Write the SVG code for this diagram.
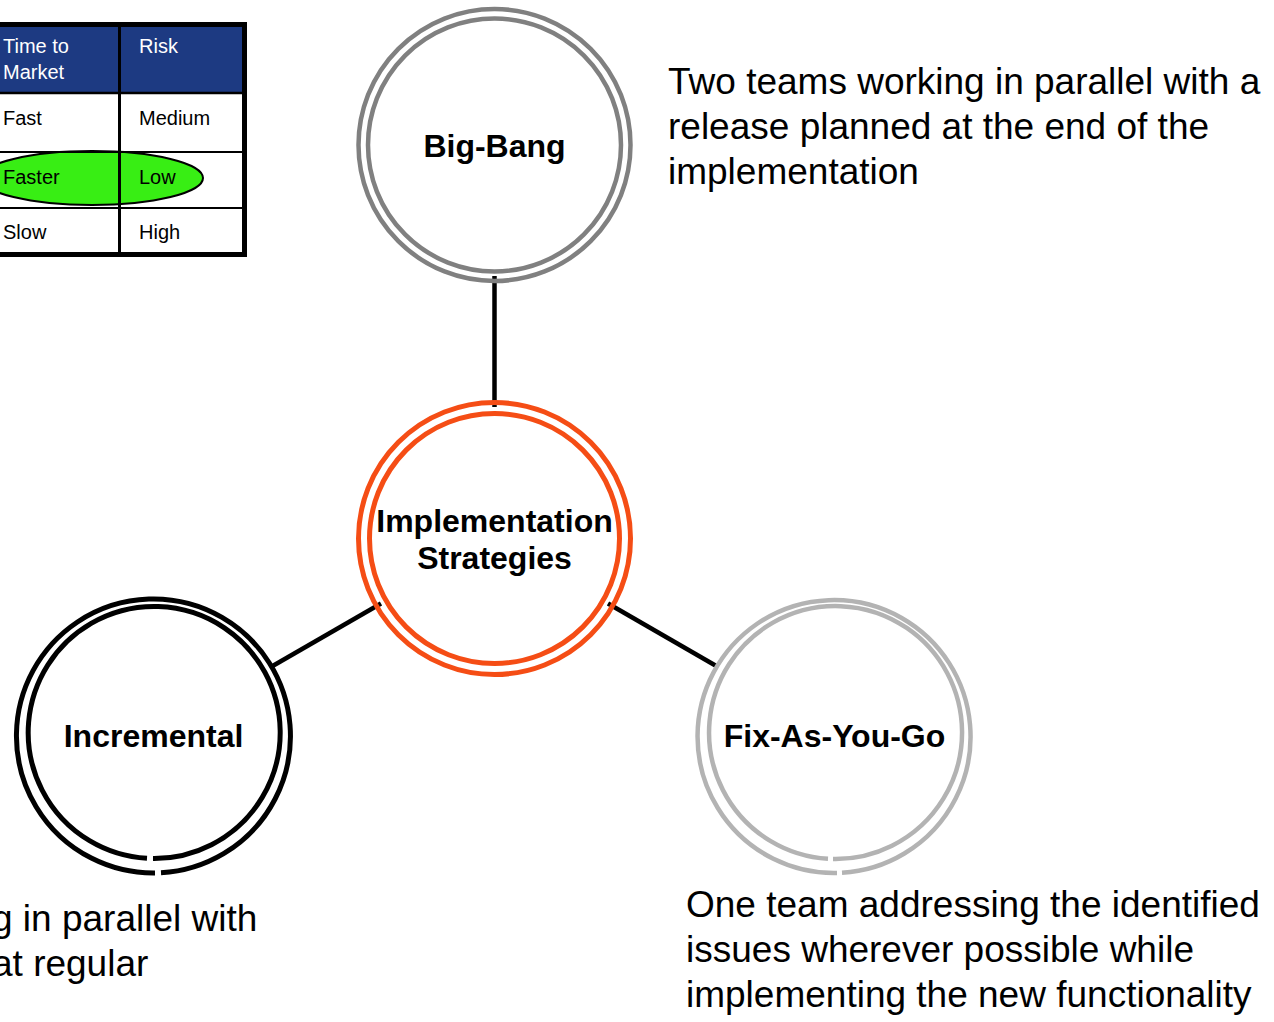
<svg xmlns="http://www.w3.org/2000/svg" width="1274" height="1022" viewBox="0 0 1274 1022">
<style>
text{font-family:"Liberation Sans",Arial,sans-serif;}
.lbl{font-size:32px;font-weight:bold;fill:#000;text-anchor:middle;}
.desc{font-size:37px;fill:#000;}
.cell{font-size:20px;fill:#000;}
.hdr{font-size:20px;fill:#fff;}
.ring{fill:none;}
.conn{stroke:#000;stroke-width:4.5;fill:none;}
</style>
<rect x="0" y="0" width="1274" height="1022" fill="#fff"/>
<g id="table">
<rect x="-20" y="24.5" width="264.5" height="230" fill="#fff"/>
<rect x="-20" y="24.5" width="264.5" height="68.5" fill="#1D3A82"/>
<ellipse cx="92" cy="178" rx="111" ry="27" fill="#38EE14" stroke="#000" stroke-width="2"/>
<line x1="-20" y1="93" x2="244" y2="93" stroke="#000" stroke-width="2.5"/>
<line x1="-20" y1="152" x2="244" y2="152" stroke="#000" stroke-width="2"/>
<line x1="-20" y1="208" x2="244" y2="208" stroke="#000" stroke-width="2"/>
<line x1="119.5" y1="24" x2="119.5" y2="255" stroke="#000" stroke-width="3"/>
<rect x="-20" y="24.5" width="264.5" height="230" fill="none" stroke="#000" stroke-width="5"/>
<text class="hdr" x="3" y="53">Time to</text>
<text class="hdr" x="3" y="79">Market</text>
<text class="hdr" x="139" y="53">Risk</text>
<text class="cell" x="3" y="125">Fast</text>
<text class="cell" x="139" y="125">Medium</text>
<text class="cell" x="3" y="184">Faster</text>
<text class="cell" x="139" y="184">Low</text>
<text class="cell" x="3" y="239">Slow</text>
<text class="cell" x="139" y="239">High</text>
</g>
<g id="connectors">
<line class="conn" x1="494.5" y1="276" x2="494.5" y2="407"/>
<line class="conn" x1="381" y1="603.5" x2="270" y2="667.5"/>
<line class="conn" x1="608" y1="603.5" x2="718" y2="667"/>
</g>
<g id="big-bang">
<circle class="ring" cx="494.5" cy="145" r="136" stroke="#808080" stroke-width="4.5"/>
<circle class="ring" cx="494.5" cy="145" r="126.5" stroke="#808080" stroke-width="4.5"/>
<text class="lbl" x="494.5" y="157">Big-Bang</text>
</g>
<g id="implementation-strategies">
<circle class="ring" cx="494.5" cy="538.5" r="136" stroke="#F54D15" stroke-width="5"/>
<circle class="ring" cx="494.5" cy="538.5" r="125" stroke="#F54D15" stroke-width="5"/>
<text class="lbl" x="494.5" y="532">Implementation</text>
<text class="lbl" x="494.5" y="569">Strategies</text>
</g>
<g id="incremental">
<path class="ring" d="M 161 872.8 A 137 137 0 1 0 155 873" stroke="#000" stroke-width="5"/>
<path class="ring" d="M 153 858.5 A 126 126 0 1 0 147 858.3" stroke="#000" stroke-width="5"/>
<text class="lbl" x="153.5" y="747">Incremental</text>
</g>
<g id="fix-as-you-go">
<path class="ring" d="M 842 872.8 A 136.5 136.5 0 1 0 837 873" stroke="#B3B3B3" stroke-width="4.5"/>
<path class="ring" d="M 833 859 A 126.5 126.5 0 1 0 828 858.8" stroke="#B3B3B3" stroke-width="4.5"/>
<text class="lbl" x="834.5" y="747">Fix-As-You-Go</text>
</g>
<g id="big-bang-desc">
<text class="desc" x="668" y="94">Two teams working in parallel with a</text>
<text class="desc" x="668" y="139">release planned at the end of the</text>
<text class="desc" x="668" y="184">implementation</text>
</g>
<g id="incremental-desc">
<text class="desc" x="-8" y="931">g in parallel with</text>
<text class="desc" x="-8" y="976">at regular</text>
</g>
<g id="fix-desc">
<text class="desc" x="686" y="917">One team addressing the identified</text>
<text class="desc" x="686" y="962">issues wherever possible while</text>
<text class="desc" x="686" y="1007">implementing the new functionality</text>
</g>
</svg>
